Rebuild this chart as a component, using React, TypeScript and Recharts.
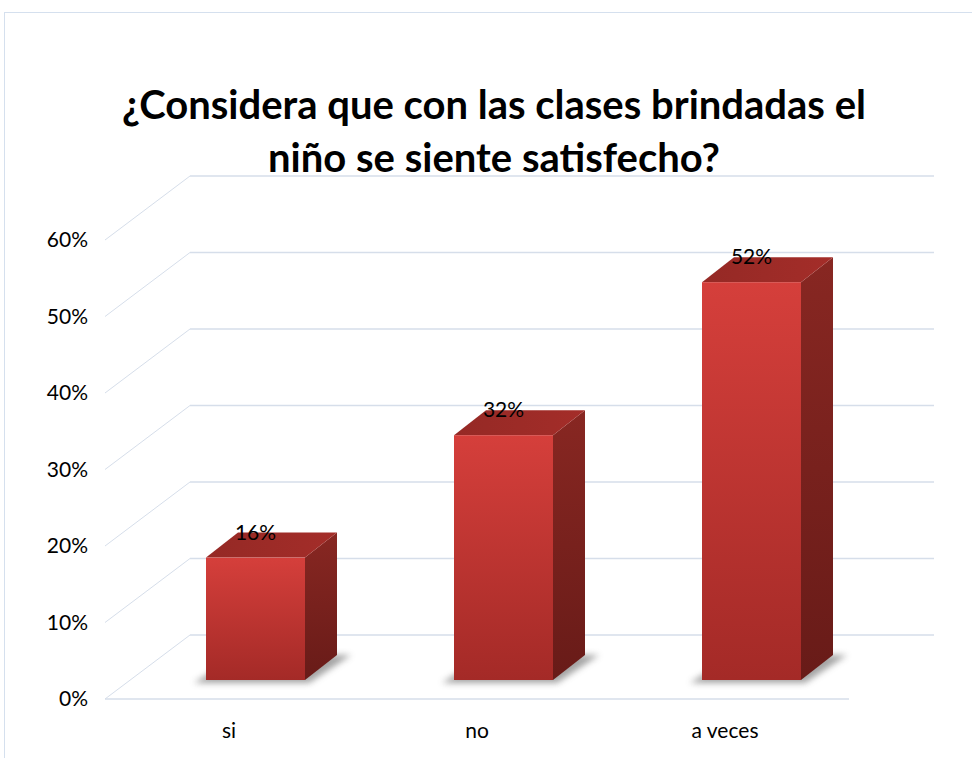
import React from 'react';
import { BarChart, Bar, XAxis, YAxis, CartesianGrid, LabelList } from 'recharts';

const categories = ['si', 'no', 'a veces'];
const values = [0.16, 0.32, 0.52];
const yTicks = [0, 0.1, 0.2, 0.3, 0.4, 0.5, 0.6];
const titleLines = ['¿Considera que con las clases brindadas el', 'niño se siente satisfecho?'];

const data = categories.map((c, i) => ({ name: c, value: values[i] }));

const W = 972;
const H = 758;
const PLOT_BOTTOM = 699;
const WALL_DX = 85;
const WALL_DY = -64;
const BAR_DX = 26;
const BAR_DY = -19;
const DEPTH_DX = 32;
const DEPTH_DY = -25;
const GRID = '#d6deea';
const FONT = 'Lato, "Open Sans", sans-serif';

const fmt = (v: number) => `${Math.round(v * 100)}%`;

const gridLine = (p: any) => {
  const { x1, x2, y1 } = p;
  const isFloor = Math.abs(y1 - PLOT_BOTTOM) < 1.5;
  return (
    <g key={p.key ?? `g-${y1}`}>
      {isFloor && <line x1={x1} y1={y1} x2={x2} y2={y1} stroke={GRID} strokeWidth={1.5} />}
      <line x1={x1} y1={y1} x2={x1 + WALL_DX} y2={y1 + WALL_DY} stroke={GRID} strokeWidth={1} />
      <line x1={x1 + WALL_DX} y1={y1 + WALL_DY} x2={x2 + WALL_DX} y2={y1 + WALL_DY} stroke={GRID} strokeWidth={1.5} />
    </g>
  );
};

const Bar3D = (p: any) => {
  const { x, y, width, height } = p;
  if (width == null || height == null) return null;
  const fx = x + BAR_DX;
  const fy = y + BAR_DY;
  const fb = y + height + BAR_DY;
  const r = fx + width;
  const shadow = `${fx - 12},${fb + 3} ${r + 4},${fb + 3} ${r + DEPTH_DX + 14},${fb + DEPTH_DY} ${fx + DEPTH_DX},${fb + DEPTH_DY}`;
  return (
    <g>
      <polygon points={shadow} fill="#5a5a5a" opacity={0.55} filter="url(#shBlur)" />
      <polygon
        points={`${r},${fy} ${r + DEPTH_DX},${fy + DEPTH_DY} ${r + DEPTH_DX},${fb + DEPTH_DY} ${r},${fb}`}
        fill="url(#sideGrad)"
      />
      <polygon
        points={`${fx},${fy} ${fx + DEPTH_DX},${fy + DEPTH_DY} ${r + DEPTH_DX},${fy + DEPTH_DY} ${r},${fy}`}
        fill="url(#topGrad)"
      />
      <rect x={fx} y={fy} width={width} height={fb - fy} fill="url(#frontGrad)" />
    </g>
  );
};

const renderLabel = (p: any) => {
  const { x, y, width, value } = p;
  return (
    <text
      x={x + BAR_DX + width / 2}
      y={y + BAR_DY - 18}
      textAnchor="middle"
      fontSize={21}
      fontFamily={FONT}
      fill="#000"
    >
      {fmt(value)}
    </text>
  );
};

export default function App() {
  return (
    <div style={{ position: 'absolute', left: 0, top: 0, width: W, height: H, overflow: 'hidden', background: '#fff' }}>
      <svg style={{ position: 'absolute', width: 0, height: 0 }}>
        <defs>
          <linearGradient id="frontGrad" x1="0" y1="0" x2="0" y2="1">
            <stop offset="0%" stopColor="#d53f3b" />
            <stop offset="100%" stopColor="#a42a27" />
          </linearGradient>
          <linearGradient id="sideGrad" x1="0" y1="0" x2="0" y2="1">
            <stop offset="0%" stopColor="#882722" />
            <stop offset="100%" stopColor="#681b18" />
          </linearGradient>
          <linearGradient id="topGrad" x1="0" y1="0" x2="1" y2="0">
            <stop offset="0%" stopColor="#952925" />
            <stop offset="100%" stopColor="#a42d29" />
          </linearGradient>
          <filter id="shBlur" x="-20%" y="-50%" width="140%" height="200%">
            <feGaussianBlur stdDeviation="3" />
          </filter>
        </defs>
      </svg>
      <div
        style={{
          position: 'absolute',
          left: 4,
          top: 12,
          width: W,
          height: H,
          borderLeft: '1.5px solid #d5e0ee',
          borderTop: '1.5px solid #d5e0ee',
        }}
      />
      <div
        style={{
          position: 'absolute',
          left: 0,
          top: 0,
          width: 988,
          textAlign: 'center',
          fontFamily: FONT,
          fontWeight: 700,
          fontSize: 40,
          color: '#000',
        }}
      >
        <div style={{ position: 'absolute', left: 0, width: 988, top: 80, lineHeight: '48px' }}>{titleLines[0]}</div>
        <div style={{ position: 'absolute', left: 0, width: 988, top: 133, lineHeight: '48px' }}>{titleLines[1]}</div>
      </div>
      <div style={{ position: 'absolute', left: 0, top: 0 }}>
        <BarChart width={W} height={H} data={data} margin={{ top: 240, right: 123, bottom: 19, left: 45 }}>
          <CartesianGrid vertical={false} horizontal={gridLine} />
          <XAxis
            dataKey="name"
            axisLine={false}
            tickLine={false}
            tickSize={0}
            tickMargin={24}
            height={40}
            tick={{ fontSize: 21, fontFamily: FONT, fill: '#000' }}
          />
          <YAxis
            domain={[0, 0.6]}
            ticks={yTicks}
            tickFormatter={fmt}
            axisLine={false}
            tickLine={false}
            tickSize={0}
            tickMargin={17}
            width={60}
            tick={{ fontSize: 21, fontFamily: FONT, fill: '#000' }}
          />
          <Bar dataKey="value" barSize={99} shape={Bar3D} isAnimationActive={false}>
            <LabelList dataKey="value" content={renderLabel} />
          </Bar>
        </BarChart>
      </div>
    </div>
  );
}
